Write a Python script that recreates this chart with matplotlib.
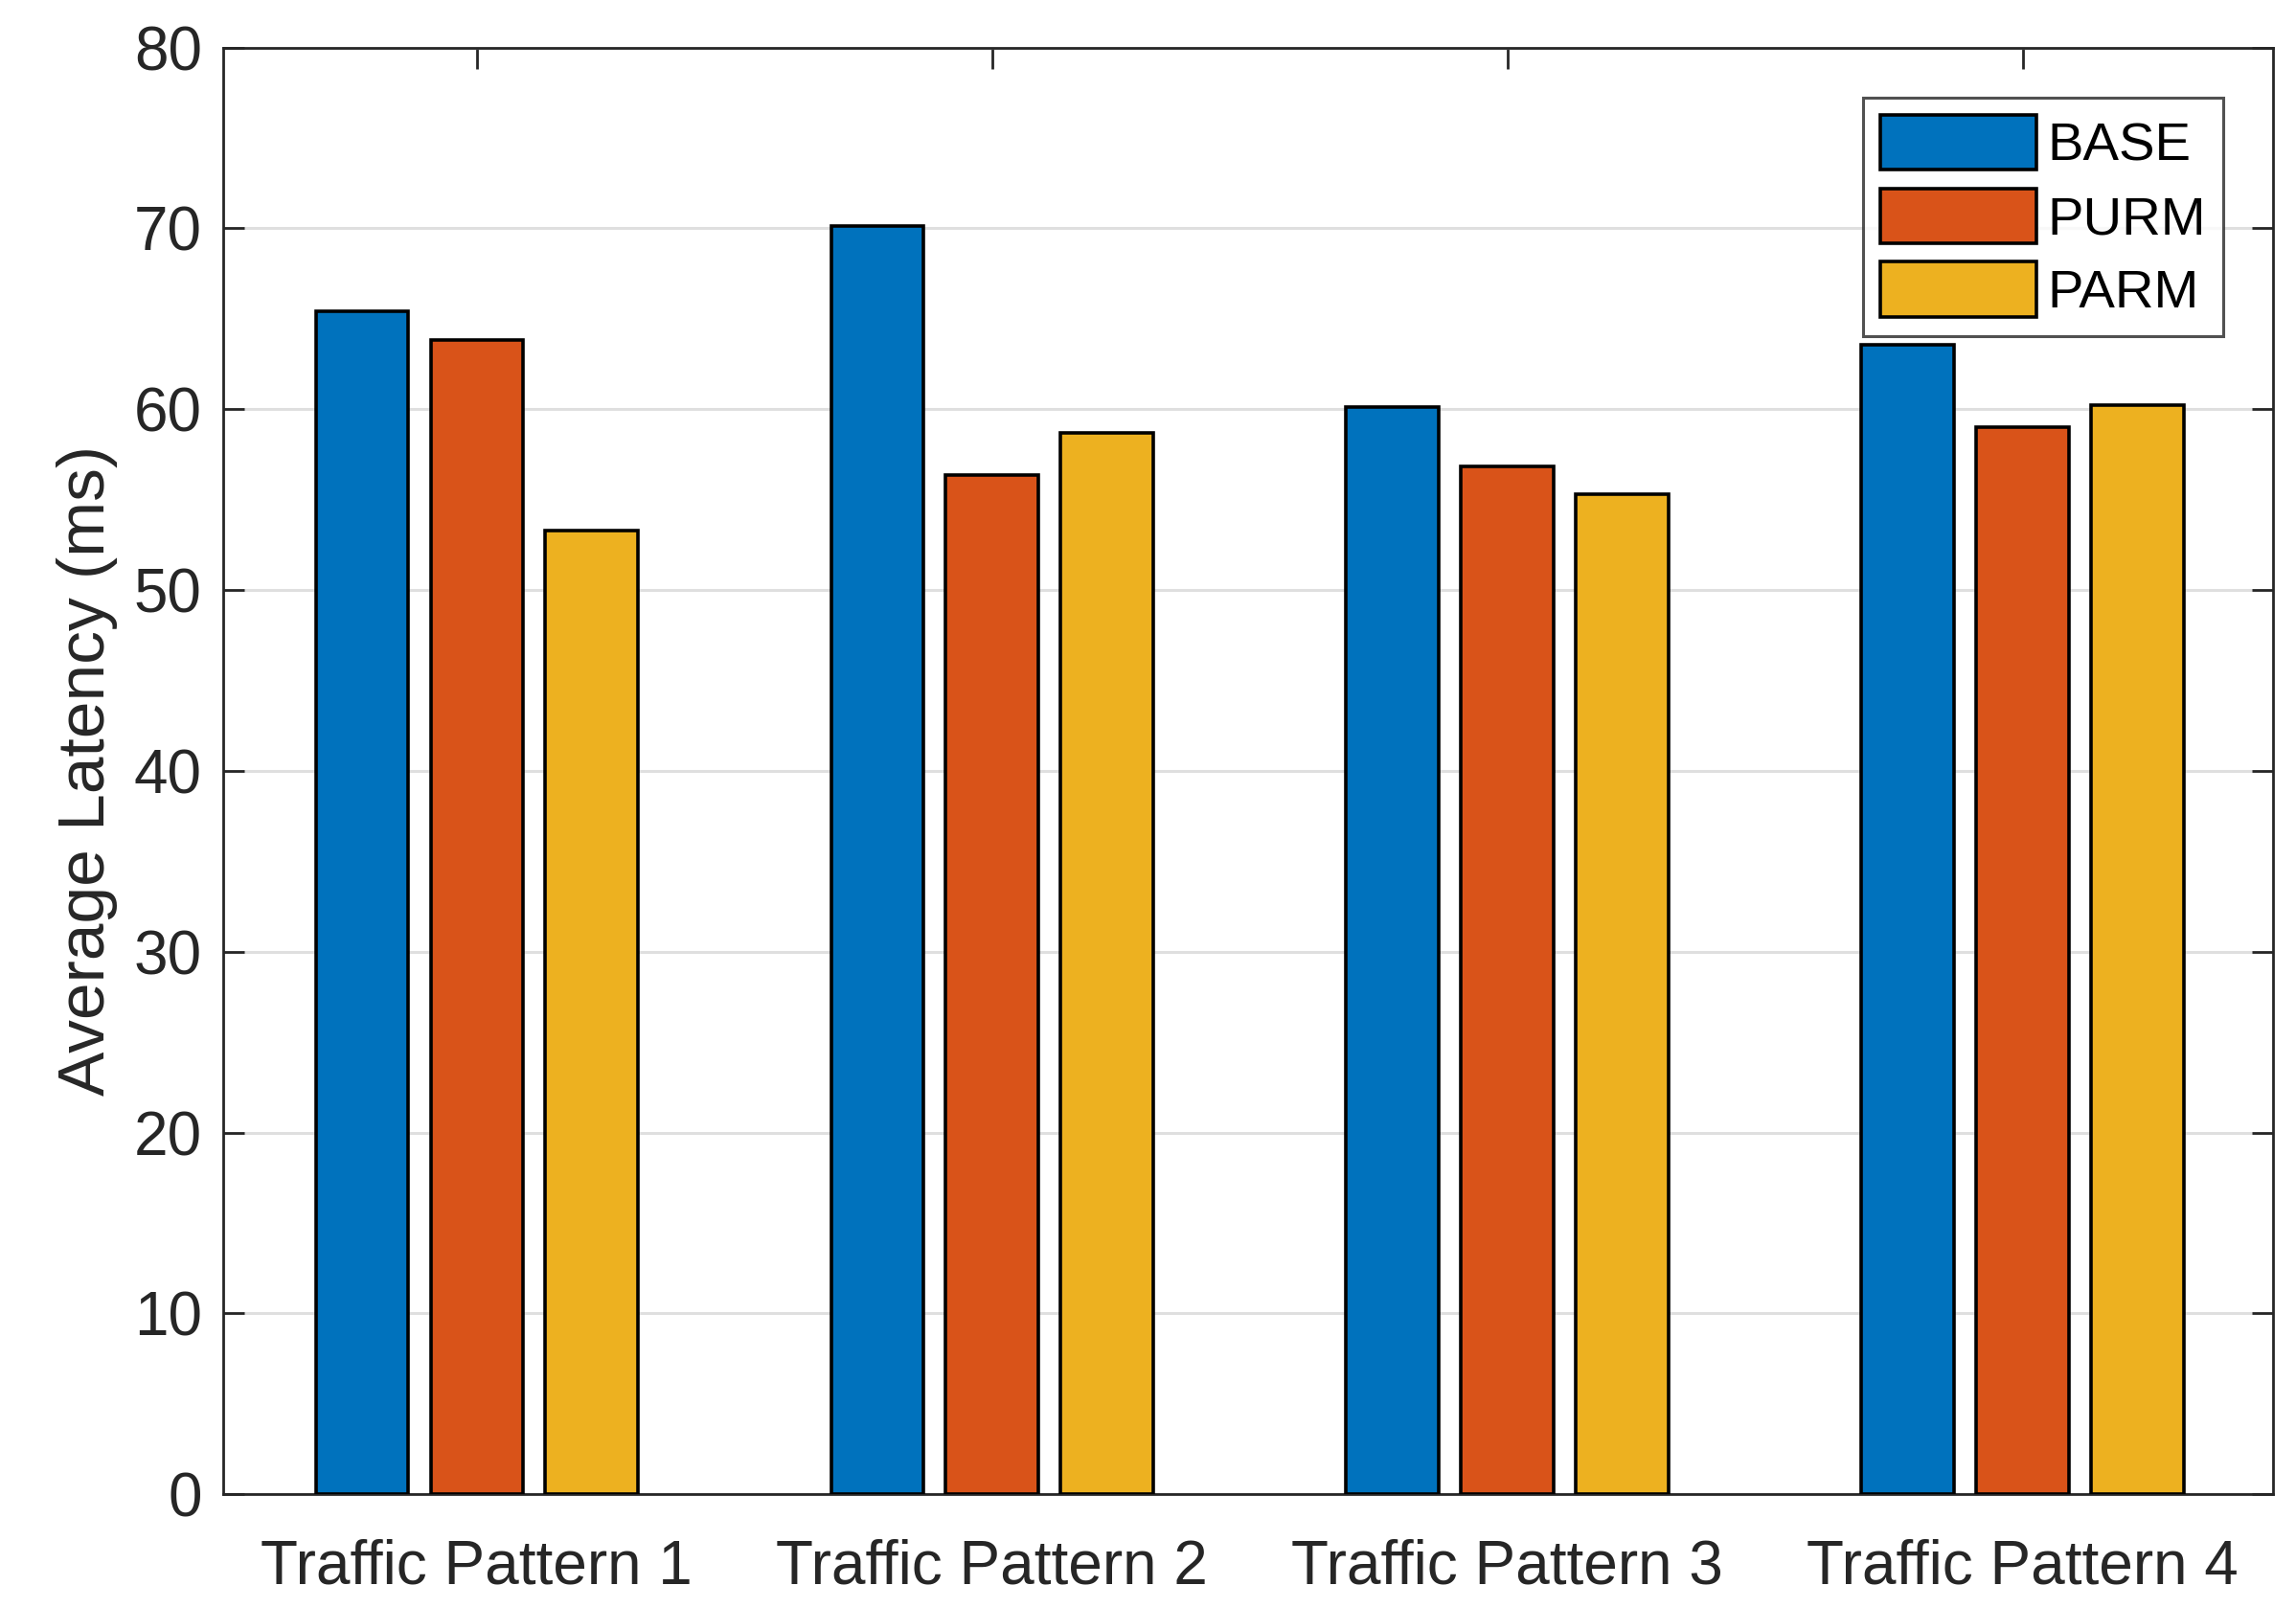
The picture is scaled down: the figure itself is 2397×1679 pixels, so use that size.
import matplotlib
matplotlib.use("Agg")
import matplotlib.pyplot as plt
import numpy as np

categories = ["Traffic Pattern 1", "Traffic Pattern 2", "Traffic Pattern 3", "Traffic Pattern 4"]
series_names = ["BASE", "PURM", "PARM"]
base = [65.4, 70.1, 60.1, 63.55]
purm = [63.8, 56.35, 56.85, 59.0]
parm = [53.3, 58.7, 55.3, 60.25]
yticks = [0, 10, 20, 30, 40, 50, 60, 70, 80]
colors = ["#0072BD", "#D95319", "#EDB120"]

plt.rcParams['font.family'] = ['Liberation Sans', 'DejaVu Sans']
dark = "#262626"

fig = plt.figure(figsize=(23.97, 16.79), dpi=100)
ax = fig.add_axes([0.0972, 0.0707, 0.8928, 0.8998])

x = np.arange(1, len(categories) + 1)
width = 0.179
offset = 0.223
for i, (vals, name, c) in enumerate(zip([base, purm, parm], series_names, colors)):
    ax.bar(x + (i - 1) * offset, vals, width, color=c, edgecolor="black",
           linewidth=2.6, label=name, zorder=3)

ax.set_xlim(0.508, 4.486)
ax.set_ylim(0, 80)
ax.set_xticks(x)
ax.set_xticklabels(categories)
ax.set_yticks(yticks)
ax.yaxis.grid(True, color="#dfdfdf", linewidth=2.2, zorder=0)
ax.set_axisbelow(True)

ax.tick_params(axis="both", direction="in", top=True, right=True, length=16,
               width=2.0, color=dark, labelcolor=dark, labelsize=46)
ax.tick_params(axis="x", pad=33)
ax.tick_params(axis="y", pad=16)
for s in ax.spines.values():
    s.set_color(dark)
    s.set_linewidth(2.0)

ax.set_ylabel("Average Latency (ms)", fontsize=50, color=dark, labelpad=12)

leg = ax.legend(loc="upper right", fontsize=40.5, frameon=True, fancybox=False,
                handlelength=2.9, handleheight=1.2, handletextpad=0.2,
                labelspacing=0.3, borderpad=0.32, borderaxespad=0.93)
leg.get_frame().set_edgecolor(dark)
leg.get_frame().set_linewidth(2.2)
for t in leg.get_texts():
    t.set_color("black")

fig.savefig("out.png", dpi=100)
